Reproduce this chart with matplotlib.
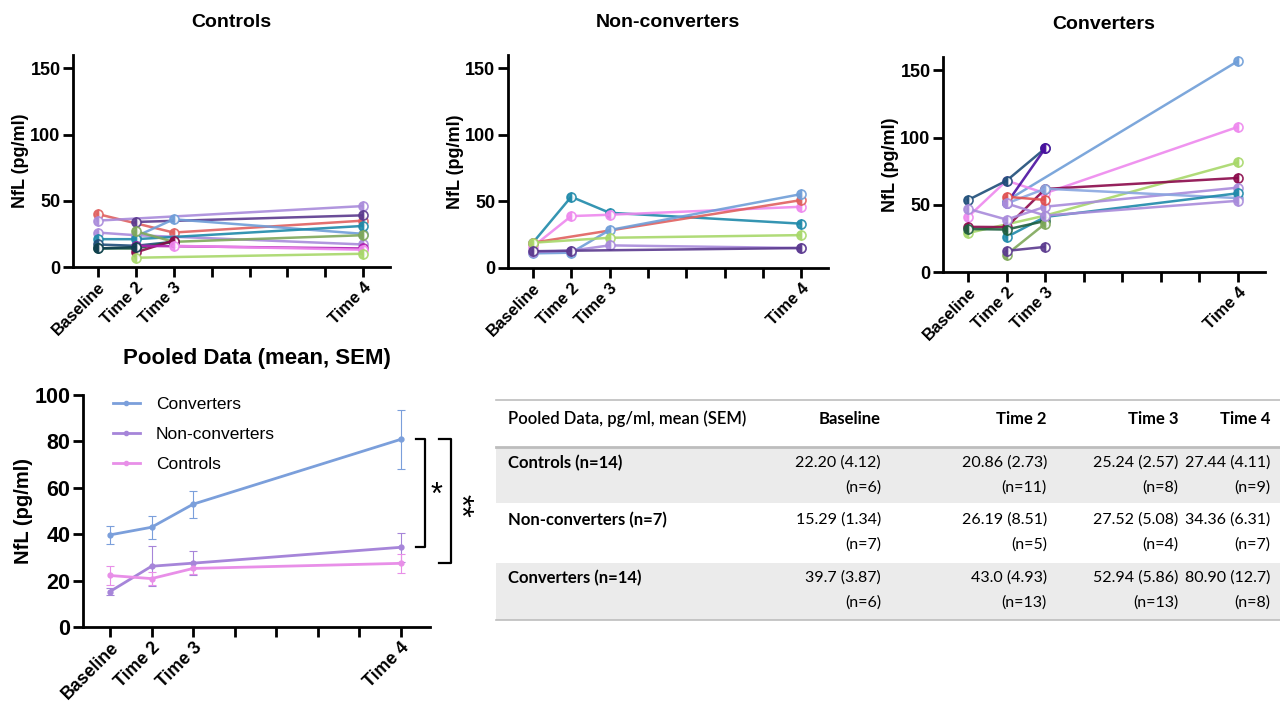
import numpy as np
import matplotlib
matplotlib.use('Agg')
import matplotlib.pyplot as plt
from matplotlib.patches import Rectangle
from matplotlib.lines import Line2D

plt.rcParams['font.family'] = 'sans-serif'
plt.rcParams['font.sans-serif'] = ['Liberation Sans', 'DejaVu Sans']

nan = np.nan
timepoints = ['Baseline', 'Time 2', 'Time 3', 'Time 4']
xpos = [0, 1, 2, 7]

# individual subjects, values at Baseline / Time 2 / Time 3 / Time 4 (pg/ml)
controls = [
    [40, nan, 26, 35], [35, nan, nan, 46], [nan, 34, nan, 39], [nan, 23, 36, 25],
    [26, 24, nan, 17], [21, 21, nan, 31], [nan, 27, 19, 24], [17, 16, 19, nan],
    [14, 14, 19, nan], [nan, 11, 20, nan], [nan, 16, nan, 14], [nan, nan, 16, 13],
    [nan, 7, nan, 10], [14, 15, nan, nan],
]
controls_col = ['#e0605f', '#a98bdb', '#5b3a8e', '#6f9ed8', '#a98bdb', '#1f8aaa', '#7fa85a',
                '#1f4e79', '#1f5f3f', '#8b0a4b', '#b020b0', '#ee88ee', '#a8d86a', '#0f3f4f']

nonconv = [
    [19, 53.5, 41.5, 33.3], [16, 39, 40, 46], [19, nan, nan, 51], [11, 11.5, 28.5, 55.5],
    [19, nan, 22.7, 24.7], [12, 13, 17, 15], [12.6, 13, nan, 15],
]
nonconv_col = ['#1f8aaa', '#ee88ee', '#e0605f', '#6f9ed8', '#a8d86a', '#a98bdb', '#5b3a8e']

conv = [
    [nan, 53, nan, 157], [41, 68, 58.6, 108], [53.6, 68, 92, nan], [nan, 51, 92, nan],
    [29, nan, 42, 81.5], [33.6, 33.4, 61.8, 70], [47, 39, 48.6, 62.8], [nan, 51, 62, 55],
    [nan, 26, 41, 58.6], [nan, 56, 53.6, nan], [32, 31.6, 38, nan], [nan, 13, 36, nan],
    [nan, 15.7, 18.7, nan], [nan, 51, 42, 53],
]
conv_col = ['#6f9ed8', '#ee88ee', '#1f4e79', '#4b0fa0', '#a8d86a', '#8b0a4b', '#a98bdb',
            '#8aa6e0', '#1f8aaa', '#e05050', '#1f5f3f', '#7fa85a', '#5b3a8e', '#a98bdb']

# pooled data, mean (SEM)
groups = ['Controls', 'Non-converters', 'Converters']
group_n = [14, 7, 14]
means = {'Controls': [22.20, 20.86, 25.24, 27.44],
         'Non-converters': [15.29, 26.19, 27.52, 34.36],
         'Converters': [39.7, 43.0, 52.94, 80.90]}
sems = {'Controls': [4.12, 2.73, 2.57, 4.11],
        'Non-converters': [1.34, 8.51, 5.08, 6.31],
        'Converters': [3.87, 4.93, 5.86, 12.7]}
sem_txt = {'Controls': ['4.12', '2.73', '2.57', '4.11'],
           'Non-converters': ['1.34', '8.51', '5.08', '6.31'],
           'Converters': ['3.87', '4.93', '5.86', '12.7']}
mean_txt = {'Controls': ['22.20', '20.86', '25.24', '27.44'],
            'Non-converters': ['15.29', '26.19', '27.52', '34.36'],
            'Converters': ['39.7', '43.0', '52.94', '80.90']}
ns = {'Controls': [6, 11, 8, 9], 'Non-converters': [7, 5, 4, 7], 'Converters': [6, 13, 13, 8]}
pooled_col = {'Converters': '#7b9fdb', 'Non-converters': '#a685d9', 'Controls': '#e88fe8'}

W, H = 1280, 703
fig = plt.figure(figsize=(W / 100, H / 100), dpi=100)


def add_ax(left, top, right, bottom):
    return fig.add_axes([left / W, 1 - bottom / H, (right - left) / W, (bottom - top) / H])


def style(ax, ymax, ystep, xfs, yfs, lfs):
    ax.set_xlim(-0.65, 7.7)
    ax.set_ylim(0, ymax)
    ax.set_yticks(np.arange(0, ymax + 1, ystep))
    ax.set_xticks(range(8))
    labs = [''] * 8
    for t, x in zip(timepoints, xpos):
        labs[x] = t
    ax.set_xticklabels(labs, rotation=45, ha='right', rotation_mode='anchor', fontweight='bold', fontsize=xfs)
    for lab in ax.get_yticklabels():
        lab.set_fontweight('bold')
        lab.set_fontsize(yfs)
    ax.spines['top'].set_visible(False)
    ax.spines['right'].set_visible(False)
    ax.spines['left'].set_linewidth(2)
    ax.spines['bottom'].set_linewidth(2)
    ax.tick_params(width=2, length=7, pad=2)
    ax.set_ylabel('NfL (pg/ml)', fontweight='bold', fontsize=lfs, labelpad=1)


def subjects(ax, data, cols, title):
    for vals, c in zip(data, cols):
        v = np.array(vals, dtype=float)
        m = ~np.isnan(v)
        xs = np.array(xpos)[m]
        ax.plot(xs, v[m], color=c, lw=1.8, alpha=0.9, marker='o', ms=6.5,
                fillstyle='left', markerfacecoloralt='white', markeredgecolor=c, markeredgewidth=1.2,
                clip_on=False, zorder=3)
    style(ax, 160, 50, 12, 13, 13)
    ax.set_yticks([0, 50, 100, 150])
    ax.set_title(title, fontweight='bold', fontsize=14, pad=20)


ax1 = add_ax(73, 55, 390, 267)
subjects(ax1, controls, controls_col, 'Controls')
ax2 = add_ax(508, 55, 828, 268)
subjects(ax2, nonconv, nonconv_col, 'Non-converters')
ax3 = add_ax(943, 57, 1265, 272)
subjects(ax3, conv, conv_col, 'Converters')

# pooled panel
ax4 = add_ax(83, 395, 430, 627)
for g in ['Converters', 'Non-converters', 'Controls']:
    ax4.errorbar(xpos, means[g], yerr=sems[g], color=pooled_col[g], lw=2, marker='o', ms=3.5,
                 elinewidth=0.8, capsize=3, capthick=0.8, label=g, clip_on=False, zorder=3)
style(ax4, 100, 20, 12.8, 15.5, 14.5)
ax4.set_title('Pooled Data (mean, SEM)', fontweight='bold', fontsize=16, pad=22)
handles = [Line2D([0], [0], color=pooled_col[g], lw=2, marker='o', ms=3) for g in ['Converters', 'Non-converters', 'Controls']]
ax4.legend(handles, ['Converters', 'Non-converters', 'Controls'], loc='upper left', bbox_to_anchor=(0.04, 1.06),
           frameon=False, fontsize=12.5, handlelength=1.6, handletextpad=0.9, labelspacing=0.85)

top = means['Converters'][3]
b1 = means['Non-converters'][3]
b2 = means['Controls'][3]
ax4.plot([7.36, 7.58, 7.58, 7.36], [top, top, b1, b1], color='k', lw=1.6, clip_on=False)
ax4.plot([7.92, 8.2, 8.2, 7.92], [top, top, b2, b2], color='k', lw=1.6, clip_on=False)
ax4.text(7.85, (top + b1) / 2 - 1, '*', fontsize=22, ha='center', va='center', clip_on=False)
ax4.text(8.4, (top + b2) / 2 - 2, '**', fontsize=22, ha='center', va='center', rotation=-90, clip_on=False)

# table
tf = ['Lato', 'DejaVu Sans']
line_c = '#bdbdbd'
shade = '#ebebeb'


def fx(x):
    return x / W


def fy(y):
    return 1 - y / H


fig.patches.append(Rectangle((fx(496), fy(503)), fx(1280 - 496), (503 - 447) / H, transform=fig.transFigure,
                             facecolor=shade, edgecolor='none', zorder=0))
fig.patches.append(Rectangle((fx(496), fy(620)), fx(1280 - 496), (620 - 563) / H, transform=fig.transFigure,
                             facecolor=shade, edgecolor='none', zorder=0))
for yy, lw in [(400, 1.2), (447, 2.0), (620, 1.2)]:
    fig.add_artist(Line2D([fx(496), 1], [fy(yy), fy(yy)], color=line_c, lw=lw, transform=fig.transFigure))

col_right = [881, 1047, 1178, 1270]
fig.text(fx(508), fy(419), 'Pooled Data, pg/ml, mean (SEM)', family=tf, fontsize=12, va='center', ha='left',
         fontweight='semibold')
for t, xr in zip(timepoints, col_right):
    fig.text(fx(xr), fy(419), t, family=tf, fontsize=12, va='center', ha='right', fontweight='bold')

row_y = [463, 520, 578]
for g, n, yy in zip(groups, group_n, row_y):
    fig.text(fx(508), fy(yy), '%s (n=%d)' % (g, n), family=tf, fontsize=12, va='center', ha='left', fontweight='bold')
    for i, xr in enumerate(col_right):
        fig.text(fx(xr), fy(yy), '%s (%s)' % (mean_txt[g][i], sem_txt[g][i]), family=tf, fontsize=11.5,
                 va='center', ha='right')
        fig.text(fx(xr), fy(yy + 25), '(n=%d)' % ns[g][i], family=tf, fontsize=11.5, va='center', ha='right')

plt.savefig('out.png', dpi=100)
